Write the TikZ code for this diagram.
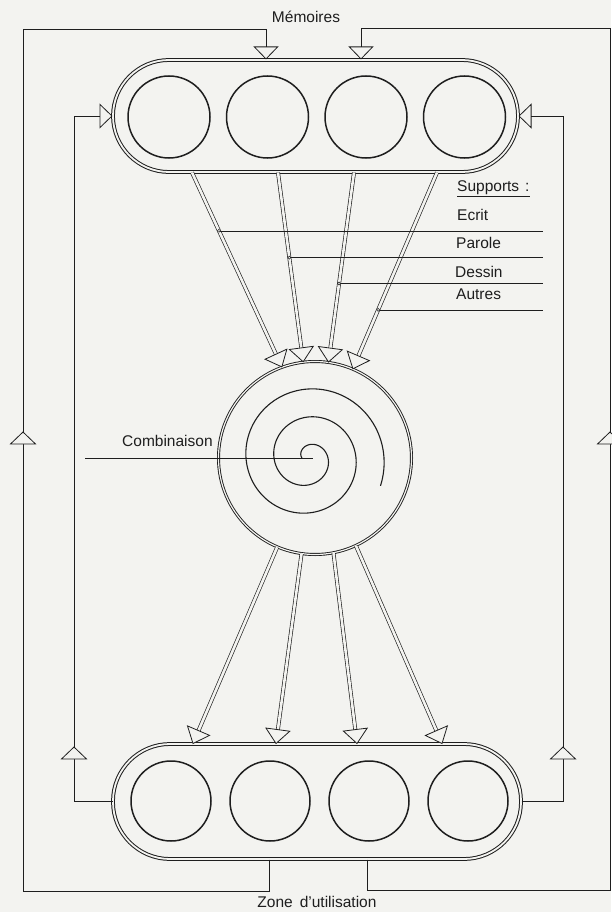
\documentclass[tikz,border=0pt]{standalone}
\usepackage{fontspec}
\setmainfont{Liberation Sans}
\usetikzlibrary{arrows.meta,calc,positioning}
\definecolor{InkGray}{RGB}{30,30,30}
\definecolor{PaperGray}{RGB}{243,243,240}

\begin{document}
\begin{tikzpicture}[x=1pt,y=-1pt,>={Triangle[open,length=13pt,width=25pt]},
    wire/.style={draw=InkGray,line width=0.8pt},
    band/.style={draw=InkGray,double=PaperGray,double distance=1.8pt,line width=1pt,
      rounded corners=56pt,minimum width=405pt,minimum height=112pt,inner sep=0pt},
    cell/.style={circle,draw=InkGray,line width=1.5pt,minimum size=82pt,inner sep=0pt},
    shaft/.style={draw=InkGray,double=PaperGray,double distance=2.6pt,line width=0.65pt},
    tri/.style={draw=InkGray,fill=PaperGray,line width=0.8pt,line join=miter},
    lbl/.style={font=\fontsize{15.5}{18}\selectfont,text=InkGray,inner sep=0pt},
    uptri/.pic={\draw[tri] (0,0) -- (12.5,12) -- (-12.5,12) -- cycle;}]
  \fill[PaperGray] (0,0) rectangle (611,912);
  \useasboundingbox (0,0) rectangle (611,912);

  % memories
  \node[band] (mem) at (315.5,116) {};
  \node[cell] (m1) at (169,117) {};
  \node[cell,right=15pt of m1] (m2) {};
  \node[cell,right=15pt of m2] (m3) {};
  \node[cell,right=15pt of m3] (m4) {};
  \node[lbl,anchor=base] (memlbl) at (306,23) {Mémoires};

  % zone of use
  \node[band,minimum width=408pt,minimum height=115pt,rounded corners=57pt] (use) at (317,801.5) {};
  \node[cell,minimum size=80pt] (u1) at (171,801) {};
  \node[cell,minimum size=80pt,right=17.5pt of u1] (u2) {};
  \node[cell,minimum size=80pt,right=17.5pt of u2] (u3) {};
  \node[cell,minimum size=80pt,right=17.5pt of u3] (u4) {};
  \node[lbl,anchor=base] (uselbl) at (317,907) {Zone\hspace{7pt}d’utilisation};

  % combination
  \node[cell,minimum size=193pt,line width=0.9pt,double=PaperGray,double distance=1.2pt] (comb) at (315,458) {};
  \draw[wire,line width=1.1pt] plot[variable=\t,domain=0:921,samples=300]
    ({308+(6+\t/360*28)*cos(180+\t)},{458+(6+\t/360*28)*sin(180+\t)});
  \node[lbl,anchor=base west] (comblbl) at (122,446) {Combinaison};
  \coordinate (lead) at (85,458);
  \coordinate (core) at (313,458);
  \draw[wire,line width=0.6pt] (lead) -- (core);

  % supports
  \coordinate (s1) at ($(mem.south)+(-123.5,0)$);
  \coordinate (s2) at ($(mem.south)+(-37.5,0)$);
  \coordinate (s3) at ($(mem.south)+(38.5,0)$);
  \coordinate (s4) at ($(mem.south)+(121.5,0)$);
  \coordinate (e1) at (comb.110);
  \coordinate (e2) at (comb.97);
  \coordinate (e3) at (comb.82);
  \coordinate (e4) at (comb.67);
  \coordinate (f1) at (comb.247);
  \coordinate (f2) at (comb.262);
  \coordinate (f3) at (comb.281);
  \coordinate (f4) at (comb.295);
  \coordinate (g1) at ($(use.north)+(-124,0)$);
  \coordinate (g2) at ($(use.north)+(-41,0)$);
  \coordinate (g3) at ($(use.north)+(40,0)$);
  \coordinate (g4) at ($(use.north)+(125,0)$);
  \foreach \s/\e in {s1/e1,s2/e2,s3/e3,s4/e4,f1/g1,f2/g2,f3/g3,f4/g4}{
    \coordinate (b) at ($(\e)!14pt!(\s)$);
    \draw[shaft] (\s) -- (b);
    \draw[tri] (\e) -- ($(b)!12pt!90:(\e)$) -- ($(b)!12pt!-90:(\e)$) -- cycle;
  }

  \node[lbl,anchor=base west] (sup) at (457,191) {Supports\hspace{6pt}:};
  \draw[wire] ([yshift=-5pt]sup.base west) -- ([yshift=-5pt]sup.base east);
  \node[lbl,anchor=base west] (ecrit) at (457,220) {Ecrit};
  \node[lbl,anchor=base west] (parole) at (456,248) {Parole};
  \node[lbl,anchor=base west] (dessin) at (455,277) {Dessin};
  \node[lbl,anchor=base west] (autres) at (456,299.5) {Autres};
  \coordinate (tab) at (543,0);
  \coordinate (p1) at ($(s1)!0.30!(e1)$);
  \coordinate (p2) at ($(s2)!0.45!(e2)$);
  \coordinate (p3) at ($(s3)!0.586!(e3)$);
  \coordinate (p4) at ($(s4)!0.70!(e4)$);
  \foreach \p in {p1,p2,p3,p4}{
    \draw[wire,line width=0.6pt] (\p) -- (\p -| tab);
    \draw[wire,line width=0.5pt,fill=PaperGray] (\p) circle (1.5pt);
  }

  % feedback loops
  \draw[wire,->] ([xshift=-48pt]use.south) -- ++(0,32) -| (23,29) -| ([xshift=-49.5pt]mem.north);
  \draw[wire,->] ([xshift=50pt]use.south) -- ++(0,31) -| (610,28) -| ([xshift=45.5pt]mem.north);
  \draw[wire,->] (use.west) -| (74,116) |- (mem.west);
  \draw[wire,->] (use.east) -| (563,116) |- (mem.east);
  \pic at (23,432) {uptri};
  \pic at (610,432) {uptri};
  \pic at (74,747) {uptri};
  \pic at (563,747) {uptri};
\end{tikzpicture}
\end{document}
